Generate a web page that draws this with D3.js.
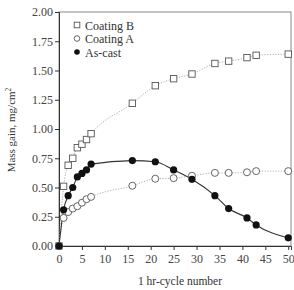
<!DOCTYPE html>
<html>
<head>
<meta charset="utf-8">
<script src="https://cdn.jsdelivr.net/npm/d3@7"></script>
<style>
  html, body { margin: 0; padding: 0; background: #fff; }
  svg { display: block; font-family: "Liberation Serif", "DejaVu Serif", serif; }
</style>
</head>
<body>
<div id="chart"></div>
<script>
// cycle numbers (1 hr cycles)
const cycles = [0, 1, 2, 3, 4, 5, 6, 7, 16, 21, 25, 29, 34, 37, 41, 43, 50];
// mass gain, mg/cm^2
const coatingB = [0, 0.51, 0.69, 0.75, 0.84, 0.87, 0.91, 0.96, 1.22, 1.37, 1.43, 1.47, 1.56, 1.58, 1.61, 1.63, 1.64];
const coatingA = [0, 0.24, 0.29, 0.32, 0.34, 0.37, 0.40, 0.42, 0.515, 0.575, 0.58, 0.60, 0.625, 0.625, 0.63, 0.64, 0.64];
const asCast = [0, 0.31, 0.43, 0.50, 0.59, 0.62, 0.65, 0.70, 0.73, 0.72, 0.65, 0.57, 0.43, 0.32, 0.24, 0.18, 0.07];
const xTicks = [0, 5, 10, 15, 20, 25, 30, 35, 40, 45, 50];
const yTicks = [0, 0.25, 0.5, 0.75, 1.0, 1.25, 1.5, 1.75, 2.0];

const W = 294, H = 290;
const plotL = 59, plotR = 291, plotT = 12, plotB = 246;

const svg = d3.select('#chart').append('svg')
  .attr('width', W)
  .attr('height', H);

const x = d3.scaleLinear().domain([0, 50.6]).range([plotL, plotR]);
const y = d3.scaleLinear().domain([0, 2]).range([plotB, plotT]);

// frame
svg.append('rect')
  .attr('x', plotL).attr('y', plotT)
  .attr('width', plotR - plotL).attr('height', plotB - plotT)
  .attr('fill', 'none')
  .attr('stroke', '#8a8a8a')
  .attr('stroke-width', 1);

// axes
const xAxis = svg.append('g')
  .attr('transform', `translate(0,${plotB})`)
  .call(d3.axisBottom(x).tickValues(xTicks).tickSize(4).tickPadding(4).tickFormat(d3.format('d')));
const yAxis = svg.append('g')
  .attr('transform', `translate(${plotL},0)`)
  .call(d3.axisLeft(y).tickValues(yTicks).tickSize(4).tickPadding(2).tickFormat(d3.format('.2f')));

[xAxis, yAxis].forEach(a => {
  a.select('.domain').attr('stroke', '#333');
  a.selectAll('.tick line').attr('stroke', '#333');
  a.selectAll('.tick text')
    .attr('fill', '#444')
    .style('font-family', '"Liberation Serif", serif')
    .style('font-size', '12px');
});

// lines
const line = d3.line()
  .x((d, i) => x(cycles[i]))
  .y(d => y(d))
  .curve(d3.curveMonotoneX);

svg.append('path').datum(coatingB)
  .attr('d', line).attr('fill', 'none')
  .attr('stroke', '#b0b0b0').attr('stroke-width', 1).attr('stroke-dasharray', '1.2,1.5');
svg.append('path').datum(coatingA)
  .attr('d', line).attr('fill', 'none')
  .attr('stroke', '#b0b0b0').attr('stroke-width', 1).attr('stroke-dasharray', '1.2,1.5');
svg.append('path').datum(asCast)
  .attr('d', line).attr('fill', 'none')
  .attr('stroke', '#333').attr('stroke-width', 1.1);

// markers
svg.append('g').selectAll('rect')
  .data(coatingB)
  .join('rect')
  .attr('x', (d, i) => x(cycles[i]) - 3.2)
  .attr('y', d => y(d) - 3.2)
  .attr('width', 6.4).attr('height', 6.4)
  .attr('fill', '#fff')
  .attr('stroke', '#555').attr('stroke-width', 0.9);

svg.append('g').selectAll('circle')
  .data(coatingA)
  .join('circle')
  .attr('cx', (d, i) => x(cycles[i]))
  .attr('cy', d => y(d))
  .attr('r', 3.5)
  .attr('fill', '#fff')
  .attr('stroke', '#555').attr('stroke-width', 0.9);

svg.append('g').selectAll('circle')
  .data(asCast)
  .join('circle')
  .attr('cx', (d, i) => x(cycles[i]))
  .attr('cy', d => y(d))
  .attr('r', 3.6)
  .attr('fill', '#111');

// legend
const legendItems = [
  { label: 'Coating B', type: 'square' },
  { label: 'Coating A', type: 'open' },
  { label: 'As-cast', type: 'filled' }
];
const legend = svg.append('g').attr('transform', 'translate(77,25)');
legendItems.forEach((item, i) => {
  const g = legend.append('g').attr('transform', `translate(0,${i * 13.5})`);
  if (item.type === 'square') {
    g.append('rect').attr('x', -2.8).attr('y', -2.8).attr('width', 5.6).attr('height', 5.6)
      .attr('fill', '#fff').attr('stroke', '#555').attr('stroke-width', 0.9);
  } else if (item.type === 'open') {
    g.append('circle').attr('r', 2.8).attr('fill', '#fff').attr('stroke', '#555').attr('stroke-width', 0.9);
  } else {
    g.append('circle').attr('r', 2.8).attr('fill', '#111');
  }
  g.append('text')
    .attr('x', 8).attr('y', 4.5)
    .attr('fill', '#333')
    .style('font-size', '12px')
    .text(item.label);
});

// axis labels
svg.append('text')
  .attr('x', 180)
  .attr('y', 285)
  .attr('text-anchor', 'middle')
  .attr('fill', '#333')
  .style('font-size', '11.5px')
  .text('1 hr-cycle number');

const yl = svg.append('text')
  .attr('transform', `translate(14.5,130) rotate(-90)`)
  .attr('text-anchor', 'middle')
  .attr('fill', '#333')
  .style('font-size', '11px');
yl.append('tspan').text('Mass gain, mg/cm');
yl.append('tspan').attr('dy', -4).style('font-size', '7.5px').text('2');
</script>
</body>
</html>
